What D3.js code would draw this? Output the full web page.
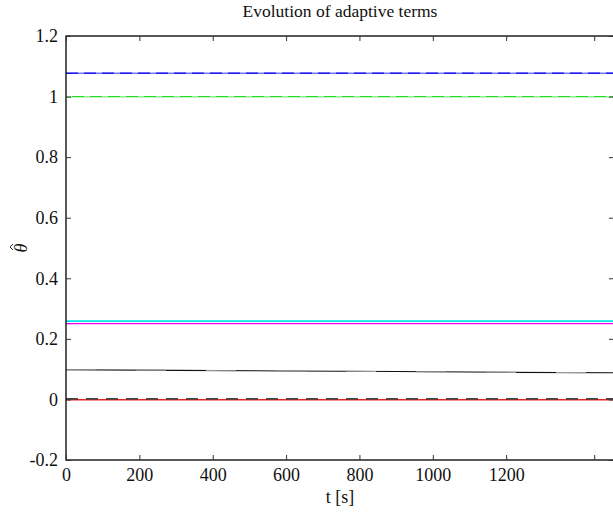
<!DOCTYPE html>
<html><head><meta charset="utf-8">
<script src="https://cdn.jsdelivr.net/npm/d3@7"></script>
<style>body{margin:0;background:#fff}svg{display:block}</style>
</head><body><svg id="c" width="613" height="512"></svg>
<script>
const xTicks = [0,200,400,600,800,1000,1200];
const xExtraTicks = [1440];
const yTicks = [-0.2,0,0.2,0.4,0.6,0.8,1,1.2];
const yTickLabels = ["-0.2","0","0.2","0.4","0.6","0.8","1","1.2"];
const tPts = [0,300,600,900,1200,1494];
const blueVals = [1.077,1.077,1.077,1.077,1.077,1.077];
const greenVals = [1.0,1.0,1.0,1.0,1.0,1.0];
const cyanVals = [0.2585,0.2585,0.2585,0.2585,0.2585,0.2585];
const magentaVals = [0.250,0.250,0.250,0.250,0.250,0.250];
const blackVals = [0.098,0.096,0.094,0.092,0.0895,0.088];
const grayVals = [0.002,0.002,0.002,0.002,0.002,0.002];
const redVals = [-0.001,-0.001,-0.001,-0.001,-0.001,-0.001];

const FONT = "'Liberation Serif', 'Times New Roman', serif";
const svg = d3.select("#c");
const L=66,R=614,T=36,B=460;
const x = d3.scaleLinear().domain([0,1494]).range([L,R]);
const y = d3.scaleLinear().domain([-0.2,1.2]).range([B,T]);
const line = d3.line().x((d,i)=>x(tPts[i])).y(d=>y(d));

const series = [
  {v:blueVals, c:"#7777ff", w:1.6},
  {v:blueVals, c:"#1a1aee", w:1.6, dash:"12,6"},
  {v:greenVals, c:"#22dd22", w:1.3},
  {v:greenVals, c:"#99ee99", w:1.3, dash:"6,12"},
  {v:cyanVals, c:"#00e5e5", w:1.6},
  {v:magentaVals, c:"#ee00ee", w:1.2},
  {v:blackVals, c:"#111", w:1.1},
  {v:blackVals, c:"#999", w:1.1, dash:"30,40"},
  {v:redVals, c:"#ee2222", w:1.6},
  {v:grayVals, c:"#444", w:1.8, dash:"12,8"}
];
const g = svg.append("g");
series.forEach(s=>{
  g.append("path").attr("d",line(s.v)).attr("fill","none").attr("stroke",s.c)
   .attr("stroke-width",s.w).attr("stroke-dasharray",s.dash||null);
});

svg.append("rect").attr("x",L).attr("y",T).attr("width",R-L).attr("height",B-T)
  .attr("fill","none").attr("stroke","#000").attr("stroke-width",1.3);

const allX = xTicks.concat(xExtraTicks);
const axB = d3.axisBottom(x).tickValues(allX).tickSizeInner(-5).tickSizeOuter(0)
  .tickFormat(d=>xTicks.includes(d)?d3.format("d")(d):"").tickPadding(8);
const ga = svg.append("g").attr("transform",`translate(0,${B})`).call(axB);
const axT = d3.axisTop(x).tickValues(allX).tickSizeInner(-5).tickSizeOuter(0).tickFormat("");
const gt = svg.append("g").attr("transform",`translate(0,${T})`).call(axT);
const axL = d3.axisLeft(y).tickValues(yTicks).tickSizeInner(-5).tickSizeOuter(0)
  .tickFormat((d,i)=>yTickLabels[i]).tickPadding(8);
const gl = svg.append("g").attr("transform",`translate(${L},0)`).call(axL);
const axR = d3.axisRight(y).tickValues(yTicks).tickSizeInner(-5).tickSizeOuter(0).tickFormat("");
const gr = svg.append("g").attr("transform",`translate(${R},0)`).call(axR);
[ga,gt,gl,gr].forEach(a=>{
  a.attr("font-family",FONT).attr("font-size",18);
  a.select(".domain").remove();
  a.selectAll(".tick line").attr("stroke","#333").attr("stroke-width",1);
  a.selectAll("text").attr("fill","#111");
});

svg.append("text").attr("x",(L+R)/2).attr("y",17).attr("text-anchor","middle")
  .attr("font-family",FONT).attr("font-size",17.5).attr("fill","#111").text("Evolution of adaptive terms");
svg.append("text").attr("x",(L+R)/2).attr("y",503).attr("text-anchor","middle")
  .attr("font-family",FONT).attr("font-size",18).attr("fill","#111").text("t [s]");
const yl = svg.append("g").attr("transform",`translate(27,${(T+B)/2}) rotate(-90)`);
yl.append("text").attr("text-anchor","middle").attr("font-family",FONT).attr("font-size",18)
  .attr("font-style","italic").attr("fill","#111").text("θ");
yl.append("path").attr("d","M-2,-14 L1,-17 L4,-14").attr("fill","none").attr("stroke","#111").attr("stroke-width",0.9);
</script></body></html>
